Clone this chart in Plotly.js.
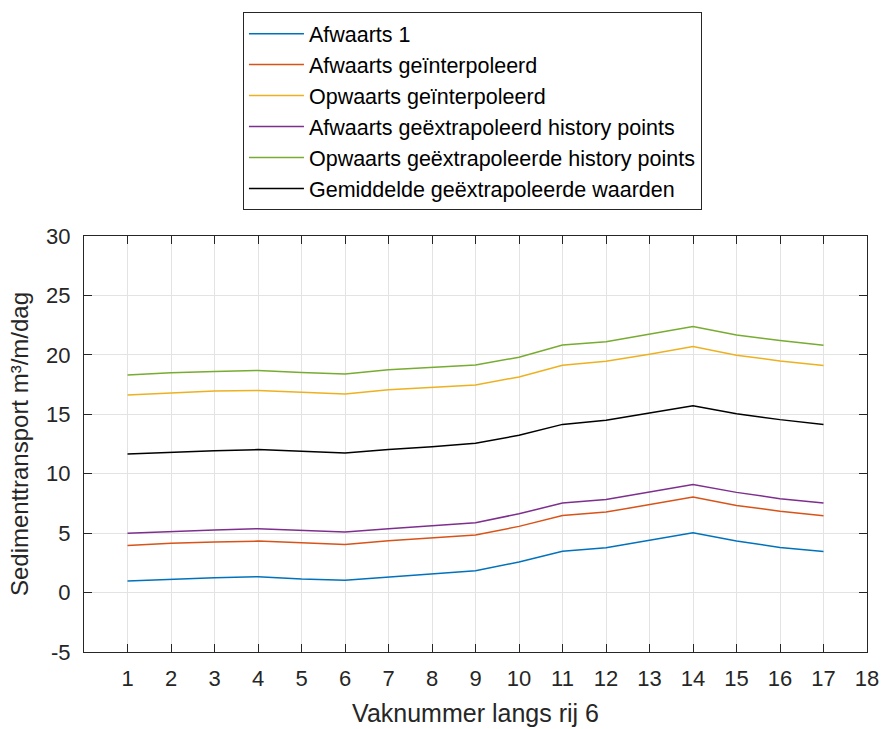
<!DOCTYPE html>
<html>
<head>
<meta charset="utf-8">
<script src="https://cdn.plot.ly/plotly-3.0.1.min.js"></script>
<style>html,body{margin:0;padding:0;background:#fff;}#chart{width:882px;height:729px;}</style>
</head>
<body>
<div id="chart"></div>
<script>
const vakNummers = [1,2,3,4,5,6,7,8,9,10,11,12,13,14,15,16,17];
const afwaarts1 = [0.97,1.14,1.25,1.34,1.14,1.03,1.32,1.6,1.84,2.57,3.47,3.78,4.39,5.04,4.33,3.8,3.46];
const afwaartsInterp = [3.95,4.14,4.25,4.33,4.2,4.05,4.35,4.6,4.84,5.57,6.49,6.77,7.39,8.03,7.33,6.85,6.47];
const opwaartsInterp = [16.62,16.79,16.96,17.01,16.85,16.7,17.07,17.3,17.47,18.14,19.13,19.47,20.05,20.7,19.97,19.49,19.11];
const afwaartsExtrap = [5.0,5.15,5.26,5.37,5.26,5.09,5.37,5.63,5.88,6.63,7.53,7.84,8.45,9.1,8.43,7.9,7.53];
const opwaartsExtrap = [18.3,18.5,18.6,18.69,18.52,18.38,18.75,18.95,19.15,19.8,20.82,21.1,21.74,22.39,21.68,21.2,20.8];
const gemiddeldExtrap = [11.66,11.83,11.94,12.03,11.89,11.75,12.03,12.26,12.56,13.23,14.15,14.49,15.1,15.72,15.05,14.55,14.15];

const seriesNames = ["Afwaarts 1","Afwaarts geïnterpoleerd","Opwaarts geïnterpoleerd","Afwaarts geëxtrapoleerd history points","Opwaarts geëxtrapoleerde history points","Gemiddelde geëxtrapoleerde waarden"];
const seriesValues = [afwaarts1, afwaartsInterp, opwaartsInterp, afwaartsExtrap, opwaartsExtrap, gemiddeldExtrap];
const seriesColors = ["#0072BD","#D95319","#EDB120","#7E2F8E","#77AC30","#000000"];
const xTicks = [1,2,3,4,5,6,7,8,9,10,11,12,13,14,15,16,17,18];
const yTicks = [-5,0,5,10,15,20,25,30];

const font = "Liberation Sans, Arial, Helvetica, sans-serif";
const traces = seriesNames.map((n,i)=>({
  x: vakNummers, y: seriesValues[i], name: n, type: 'scatter', mode: 'lines',
  legendgroup: 'g'+i,
  line: {color: seriesColors[i], width: 1.5}
}));

const axisCommon = {
  showline: true, mirror: 'ticks', linecolor: '#262626', linewidth: 1,
  ticks: 'inside', ticklen: 8, tickcolor: '#262626',
  showgrid: true, gridcolor: '#e3e3e3', gridwidth: 1, zeroline: false,
  tickfont: {family: font, size: 22, color: '#262626'}
};

const layout = {
  width: 882, height: 729,
  margin: {l: 84, r: 15, t: 236, b: 77},
  paper_bgcolor: '#fff', plot_bgcolor: '#fff',
  showlegend: true,
  legend: {
    x: 0.203, y: 1.538, xanchor: 'left', yanchor: 'top',
    bordercolor: '#262626', borderwidth: 1, bgcolor: '#fff',
    font: {family: font, size: 21.5, color: '#000'},
    traceorder: 'grouped', tracegroupgap: 0, itemwidth: 55
  },
  xaxis: Object.assign({}, axisCommon, {
    range: [0, 18], tickmode: 'array', tickvals: xTicks, ticktext: xTicks.map(String),
    ticklabelstandoff: 7,
    title: {text: 'Vaknummer langs rij 6', font: {family: font, size: 25, color: '#262626'}, standoff: 14}
  }),
  yaxis: Object.assign({}, axisCommon, {
    range: [-5, 30], tickmode: 'array', tickvals: yTicks, ticktext: yTicks.map(String),
    ticklabelstandoff: 8,
    title: {text: 'Sedimenttransport m³/m/dag', font: {family: font, size: 24, color: '#262626'}, standoff: 10}
  })
};

Plotly.newPlot('chart', traces, layout, {displayModeBar: false, staticPlot: true});
</script>
</body>
</html>
